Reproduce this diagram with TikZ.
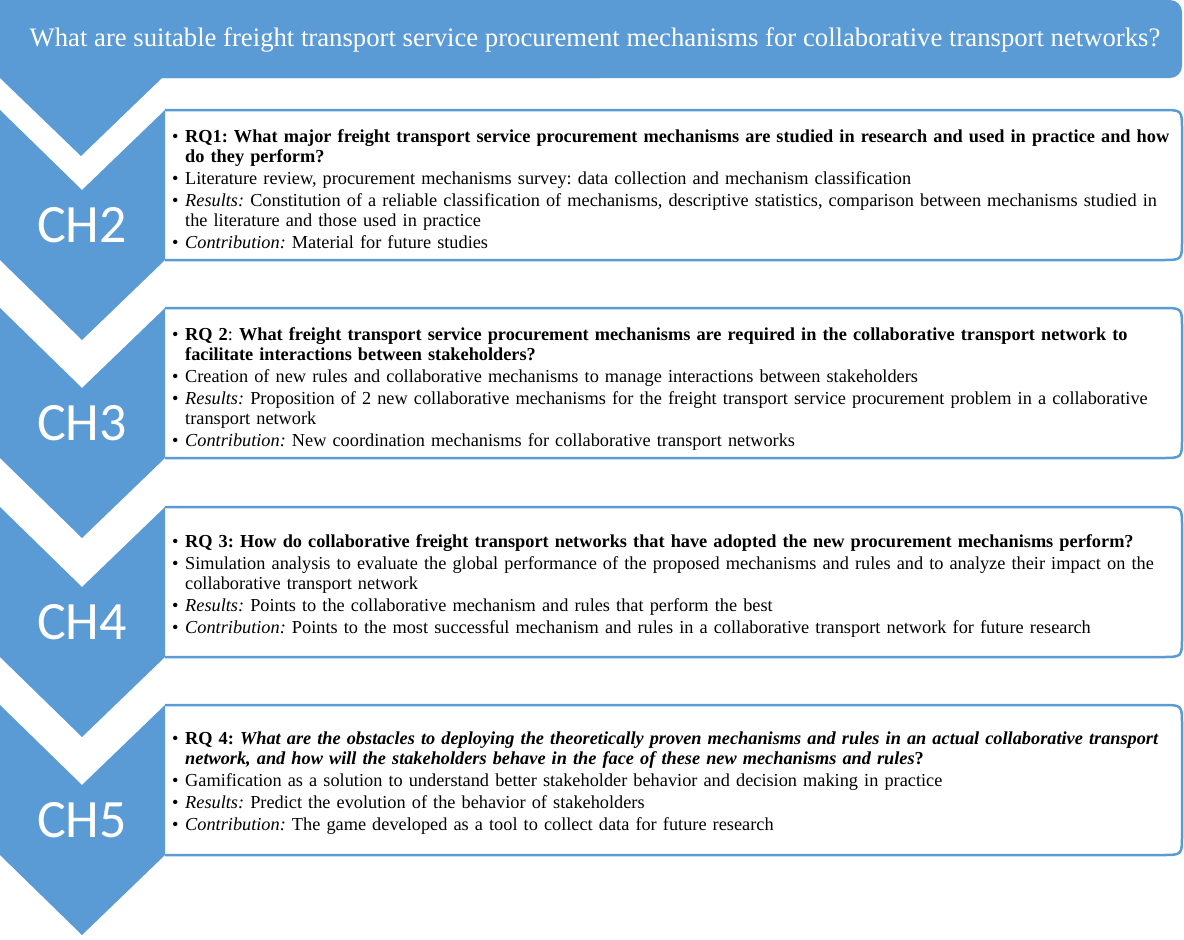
\documentclass[tikz,border=0pt]{standalone}
\usepackage{fontspec}
\setmainfont{Liberation Serif}
\newfontfamily\chfont{Carlito}
\usetikzlibrary{positioning}
\definecolor{chapblue}{RGB}{91,155,213}
\newcommand{\rqitem}[1]{\par\hangindent=13pt\hangafter=1\noindent\makebox[13pt][l]{\textbullet}#1}
\frenchspacing

\begin{document}
\begin{tikzpicture}[
  x=1pt, y=-1pt,
  frame/.style={draw=chapblue, line width=2.5pt, fill=white},
  chlabel/.style={text=white, font=\chfont\fontsize{54}{60}\selectfont},
  goaltext/.style={text=white, font=\fontsize{26.7}{30}\selectfont},
  rqtext/.style={anchor=west, text width=1008pt, align=left, inner sep=0pt,
    font=\fontsize{18.3}{20}\selectfont, execute at begin node={\frenchspacing\setlength{\parskip}{2pt}}}
]
  \useasboundingbox (0,0) rectangle (1184,940);

  % Banner
  \fill[chapblue, rounded corners=12pt] (0,0) rectangle (1182,78);
  \fill[chapblue] (0,0) -- (600,0) -- (600,78) -- (162,78) -- (81,156) -- (0,78) -- cycle;
  \node[goaltext] (goal) at (595,40) {What are suitable freight transport service procurement mechanisms for collaborative transport networks?};

  % Chapters
  \foreach \t/\n in {110/2, 308/3, 507/4, 705/5} {
    \draw[frame] (165,\t) -- (1162,\t) .. controls (1182,\t) .. (1182,\t+20) -- (1182,\t+130)
      .. controls (1182,\t+150) .. (1162,\t+150) -- (165,\t+150);
    \fill[chapblue] (0,\t) -- (82,\t+80) -- (165,\t) -- (165,\t+150) -- (82,\t+230) -- (0,\t+150) -- cycle;
    \node[chlabel] (ch\n) at (82,\t+115) {CH\n};
  }

  % Research questions
  \node[rqtext] (rq1) at (172,185) {%
    \rqitem{\textbf{RQ1: What major freight transport service procurement mechanisms are studied in research and used in practice and how\newline do they perform?}}
    \rqitem{Literature review, procurement mechanisms survey: data collection and mechanism classification}
    \rqitem{\textit{Results:} Constitution of a reliable classification of mechanisms, descriptive statistics, comparison between mechanisms studied in\newline the literature and those used in practice}
    \rqitem{\textit{Contribution:} Material for future studies}};

  \node[rqtext] (rq2) at (172,384) {%
    \rqitem{\textbf{RQ 2}: \textbf{What freight transport service procurement mechanisms are required in the collaborative transport network to\newline facilitate interactions between stakeholders?}}
    \rqitem{Creation of new rules and collaborative mechanisms to manage interactions between stakeholders}
    \rqitem{\textit{Results:} Proposition of 2 new collaborative mechanisms for the freight transport service procurement problem in a collaborative\newline transport network}
    \rqitem{\textit{Contribution:} New coordination mechanisms for collaborative transport networks}};

  \node[rqtext] (rq3) at (172,581) {%
    \rqitem{\textbf{RQ 3: How do collaborative freight transport networks that have adopted the new procurement mechanisms perform?}}
    \rqitem{Simulation analysis to evaluate the global performance of the proposed mechanisms and rules and to analyze their impact on the\newline collaborative transport network}
    \rqitem{\textit{Results:} Points to the collaborative mechanism and rules that perform the best}
    \rqitem{\textit{Contribution:} Points to the most successful mechanism and rules in a collaborative transport network for future research}};

  \node[rqtext] (rq4) at (172,778) {%
    \rqitem{\textbf{RQ 4: \textit{What are the obstacles to deploying the theoretically proven mechanisms and rules in an actual collaborative transport\newline network, and how will the stakeholders behave in the face of these new mechanisms and rules}?}}
    \rqitem{Gamification as a solution to understand better stakeholder behavior and decision making in practice}
    \rqitem{\textit{Results:} Predict the evolution of the behavior of stakeholders}
    \rqitem{\textit{Contribution:} The game developed as a tool to collect data for future research}};
\end{tikzpicture}
\end{document}
